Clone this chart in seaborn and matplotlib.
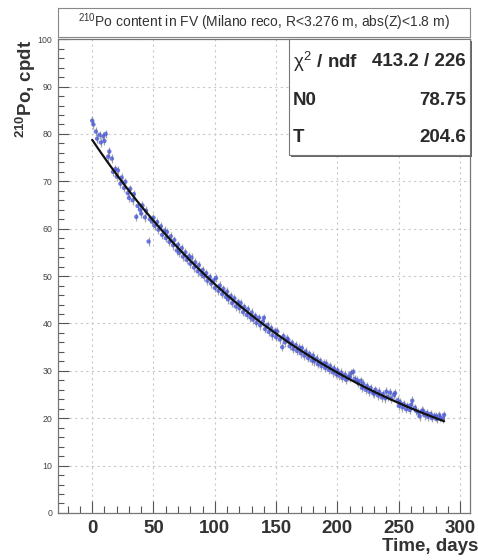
import numpy as np
import pandas as pd
import matplotlib
matplotlib.use('Agg')
import matplotlib.pyplot as plt
from matplotlib.ticker import MultipleLocator
import seaborn as sns

days = [0, 1, 3, 4, 6, 7, 9,
        10, 11, 13, 14, 16, 17, 19,
        20, 21, 23, 24, 26, 27, 29,
        30, 31, 33, 34, 36, 37, 39,
        40, 41, 43, 44, 46, 47, 49,
        50, 51, 53, 54, 56, 57, 59,
        60, 61, 63, 64, 66, 67, 69,
        70, 71, 73, 74, 76, 77, 79,
        80, 81, 83, 84, 86, 87, 89,
        90, 91, 93, 94, 96, 97, 99,
        100, 101, 103, 104, 106, 107, 109,
        110, 111, 113, 114, 116, 117, 119,
        120, 121, 123, 124, 126, 127, 129,
        130, 131, 133, 134, 136, 137, 139,
        140, 141, 143, 144, 146, 147, 149,
        150, 151, 153, 155, 156, 157, 159,
        160, 161, 163, 164, 166, 167, 169,
        170, 171, 173, 174, 176, 177, 179,
        180, 181, 183, 184, 186, 187, 189,
        190, 191, 193, 194, 196, 197, 199,
        200, 201, 203, 204, 206, 207, 209,
        210, 211, 213, 214, 216, 217, 219,
        220, 221, 223, 224, 226, 227, 229,
        230, 231, 233, 234, 236, 237, 239,
        240, 241, 243, 244, 246, 247, 249,
        250, 251, 253, 254, 256, 257, 259,
        260, 261, 263, 264, 266, 267, 269,
        270, 271, 273, 274, 276, 277, 279,
        280, 281, 283, 284, 286, 287]

po_rate = [82.8, 82.0, 80.5, 79.0, 79.8, 78.2, 79.5,
           78.5, 80.0, 75.2, 76.3, 74.8, 72.0, 72.6,
           71.0, 72.3, 69.5, 70.8, 68.6, 69.9, 67.5,
           66.5, 68.4, 66.0, 67.3, 62.5, 64.8, 64.0,
           63.2, 64.9, 62.4, 63.8, 57.3, 62.0, 61.5,
           62.3, 60.6, 61.4, 59.8, 60.5, 58.7, 59.6,
           58.0, 59.3, 57.2, 58.4, 56.5, 57.6, 55.4,
           56.6, 54.9, 55.9, 54.1, 55.0, 53.4, 54.2,
           52.6, 53.9, 51.8, 52.9, 51.0, 52.3, 50.4,
           51.3, 49.9, 50.6, 49.0, 49.8, 48.4, 49.1,
           47.5, 49.6, 46.9, 48.0, 46.2, 47.3, 45.6,
           46.7, 45.1, 45.8, 44.3, 45.3, 43.6, 44.5,
           43.2, 44.3, 42.4, 43.5, 41.8, 43.0, 41.3,
           42.3, 40.8, 41.6, 40.1, 41.2, 39.6, 40.4,
           41.2, 38.8, 39.7, 38.2, 39.0, 37.5, 38.4,
           37.1, 38.3, 36.6, 35.0, 37.3, 36.0, 36.8,
           36.5, 35.2, 35.9, 34.6, 35.4, 34.2, 34.9,
           33.7, 34.8, 33.2, 34.1, 32.7, 33.6, 32.2,
           33.2, 32.0, 32.6, 31.4, 32.1, 31.0, 31.6,
           30.6, 31.5, 30.2, 31.0, 29.7, 30.5, 29.3,
           30.1, 29.0, 29.6, 28.5, 29.2, 28.1, 28.8,
           28.6, 29.5, 29.8, 28.3, 28.0, 27.4, 27.9,
           26.4, 27.3, 26.0, 26.8, 25.6, 26.4, 25.3,
           25.2, 26.0, 24.8, 25.6, 24.4, 25.1, 24.2,
           25.6, 24.5, 25.4, 24.1, 24.9, 25.3, 23.8,
           22.6, 23.4, 22.3, 23.0, 21.9, 22.6, 21.7,
           22.8, 23.7, 22.2, 21.6, 21.2, 20.4, 21.6,
           21.5, 20.6, 21.1, 20.3, 20.9, 20.0, 20.5,
           20.4, 19.8, 20.6, 20.1, 19.9, 20.7]

rate_err = 0.9

# fit result shown in the stats box
chi2_ndf = '413.2 / 226'
N0 = 78.75
T = 204.6

df = pd.DataFrame({'day': days, 'rate': po_rate})
fit_t = np.linspace(min(days), max(days), 200)
fit_df = pd.DataFrame({'day': fit_t, 'rate': N0 * np.exp(-fit_t / T)})

sns.set_style('white')
plt.rcParams['font.family'] = ['Liberation Sans', 'DejaVu Sans']
plt.rcParams['mathtext.fontset'] = 'custom'
plt.rcParams['mathtext.rm'] = 'Liberation Sans'
plt.rcParams['mathtext.bf'] = 'Liberation Sans:bold'
plt.rcParams['mathtext.it'] = 'Liberation Sans'

fig = plt.figure(figsize=(4.78, 5.6), dpi=100)
ax = fig.add_axes([0.121, 0.084, 0.862, 0.846])

ax.errorbar(df['day'], df['rate'], yerr=rate_err, fmt='none',
            ecolor='#909090', elinewidth=0.9, alpha=0.8, zorder=2)
sns.scatterplot(data=df, x='day', y='rate', ax=ax, color='#4a5ad8',
                s=10, marker='o', edgecolor='none', alpha=0.8, zorder=3)
sns.lineplot(data=fit_df, x='day', y='rate', ax=ax, color='#111111',
             linewidth=1.6, zorder=4)

ax.set_xlim(-28, 308)
ax.set_ylim(0, 100)
ax.xaxis.set_major_locator(MultipleLocator(50))
ax.xaxis.set_minor_locator(MultipleLocator(10))
ax.yaxis.set_major_locator(MultipleLocator(10))
ax.yaxis.set_minor_locator(MultipleLocator(2))
ax.tick_params(axis='both', which='both', direction='in', colors='#555555',
               bottom=True, left=True, top=False, right=False, width=0.8)
ax.tick_params(axis='x', which='major', length=9, labelsize=13.5, pad=5,
               labelcolor='#333333')
ax.tick_params(axis='x', which='minor', length=5)
ax.tick_params(axis='y', which='major', length=8, labelsize=6.3, pad=4,
               labelcolor='#444444')
ax.tick_params(axis='y', which='minor', length=4)
for lab in ax.get_xticklabels():
    lab.set_fontweight('bold')
ax.grid(True, which='major', linestyle=(0, (2, 3)), color='#c8c8c8',
        linewidth=0.8)
for s in ax.spines.values():
    s.set_color('#777777')
    s.set_linewidth(0.9)

ax.set_xlabel('Time, days', fontsize=13.5, fontweight='bold',
              color='#333333')
ax.xaxis.set_label_coords(1.02, -0.053)
ax.xaxis.label.set_horizontalalignment('right')
ax.xaxis.label.set_verticalalignment('top')
ax.set_ylabel(r'$^{\mathbf{210}}$Po, cpdt', loc='top', fontsize=13.5,
              fontweight='bold', color='#333333')
ax.yaxis.set_label_coords(-0.048, 1.0)

# title box
tax = fig.add_axes([0.121, 0.934, 0.862, 0.052])
tax.set_xticks([])
tax.set_yticks([])
for s in tax.spines.values():
    s.set_color('#888888')
    s.set_linewidth(0.8)
tax.text(0.5, 0.5, r'$^{210}$Po content in FV (Milano reco, R<3.276 m, abs(Z)<1.8 m)',
         ha='center', va='center', fontsize=10, color='#333333')

# stats box
box_x0, box_y0 = 0.561, 0.755
shadow = plt.Rectangle((box_x0 + 0.005, box_y0 - 0.004), 1 - box_x0, 1 - box_y0,
                       transform=ax.transAxes, facecolor='#666666',
                       edgecolor='none', zorder=5, clip_on=False)
box = plt.Rectangle((box_x0, box_y0), 1 - box_x0, 1 - box_y0,
                    transform=ax.transAxes, facecolor='white',
                    edgecolor='#777777', linewidth=0.8, zorder=6, clip_on=False)
ax.add_patch(shadow)
ax.add_patch(box)
rows = [(r'$\chi^2$ / ndf', chi2_ndf, 0.952),
        ('N0', f'{N0:.2f}', 0.870),
        ('T', f'{T:.1f}', 0.792)]
for name, val, yy in rows:
    ax.text(box_x0 + 0.01, yy, name, transform=ax.transAxes, ha='left',
            va='center', fontsize=13.5, fontweight='bold', color='#2a2a2a', zorder=7)
    ax.text(0.99, yy, val, transform=ax.transAxes, ha='right', va='center',
            fontsize=13.5, fontweight='bold', color='#2a2a2a', zorder=7)

fig.savefig('out.png', dpi=100)
